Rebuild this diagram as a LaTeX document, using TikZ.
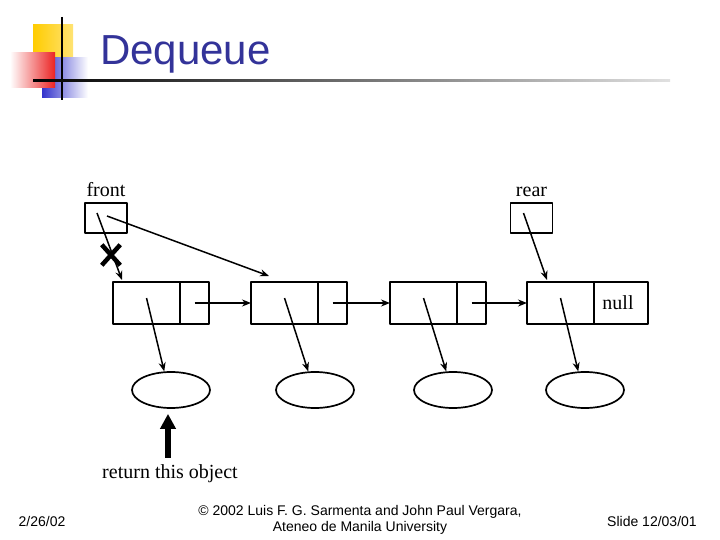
\documentclass[tikz,border=0pt]{standalone}
\usepackage{fontspec}
\setmainfont{Liberation Serif}
\setsansfont{Liberation Sans}
\usetikzlibrary{positioning,arrows.meta,shapes.geometric,shapes.misc,calc}
\definecolor{titleblue}{RGB}{51,51,153}
\definecolor{sqyellow}{RGB}{255,204,0}
\definecolor{sqred}{RGB}{235,35,35}
\definecolor{sqblue}{RGB}{51,51,204}
\tikzset{
  cell/.style={draw, line width=1.7pt, minimum height=42pt, inner sep=0pt, outer sep=0pt},
  obj/.style={draw, line width=1.7pt, ellipse, minimum width=78pt, minimum height=36pt, inner sep=0pt},
  ptr/.style={->, line width=1.5pt},
  lbl/.style={font=\fontsize{20}{20}\selectfont, inner sep=0pt},
  foot/.style={font=\sffamily\fontsize{14}{16}\selectfont, align=center, inner sep=0pt}
}
\begin{document}
\begin{tikzpicture}[x=1pt, y=-1pt, >={Stealth[length=9pt,width=7pt]}, line join=round]
	\useasboundingbox (0,0) rectangle (720,540);
	% title bar
	\shade[left color=sqyellow, right color=sqyellow!55] (33,25) rectangle (73,60);
	\shade[left color=sqblue, right color=white] (42,58) rectangle (88,98);
	\shade[left color=white, right color=sqred] (10,53) rectangle (55,88);
	\draw[line width=2pt] (62,17) -- (62,100);
	\shade[left color=black, right color=black!12] (33,80) rectangle (670,82);
	\node[font=\sffamily\fontsize{42}{42}\selectfont, text=titleblue, anchor=base west, inner sep=0pt] (title) at (100,65) {Dequeue};
	% list nodes
	\foreach \i/\x in {1/146.5, 2/284.5, 3/423.5} {
		\node[cell, minimum width=67pt] (d\i) at (\x,303) {};
		\node[cell, minimum width=29pt, right=0pt of d\i] (n\i) {};
	}
	\node[cell, minimum width=67pt] (d4) at (560.5,303) {};
	\node[cell, lbl, minimum width=54pt, minimum height=42pt, right=0pt of d4] (n4) {null\hspace*{6pt}};
	% objects
	\foreach \i/\x in {1/171, 2/315, 3/453, 4/585}
		\node[obj] (o\i) at (\x,390) {};
	% front and rear
	\node[cell, minimum width=42pt, minimum height=30pt] (fbox) at (106,218) {};
	\node[lbl, above=6pt of fbox] (front) {front};
	\node[cell, minimum width=42pt, minimum height=30pt] (rbox) at (531.5,218) {};
	\node[lbl, above=6pt of rbox] (rear) {rear};
	% links
	\draw[ptr] (n1.center) -- (d2.west);
	\draw[ptr] (n2.center) -- (d3.west);
	\draw[ptr] (n3.center) -- (d4.west);
	\foreach \i in {1,...,4}
		\draw[ptr] ($(d\i.center)+(0,-5)$) -- (o\i.110);
	\draw[ptr] ($(fbox.center)+(-9,-5)$) -- ($(d1.north west)+(9,-2)$);
	\node[draw, cross out, line width=4.5pt, minimum width=14pt, minimum height=16pt, inner sep=0pt] (cut) at (111,255) {};
	\draw[ptr] ($(fbox.center)+(1,-2)$) -- ($(d2.north west)+(18,-6)$);
	\draw[ptr] ($(rbox.center)+(-8,-5)$) -- ($(d4.north west)+(20,-2)$);
	% returned object
	\node[lbl, anchor=base] (ret) at (170,478) {return this object};
	\draw[line width=6pt, -{Triangle[length=15pt,width=15pt]}, shorten >=5pt] ($(ret.north)+(-2,-6)$) -- ($(o1.south)+(-3,0)$);
	% footer
	\node[foot] (date) at (42,521) {2/26/02};
	\node[foot] (copy) at (360,520) {\copyright{} 2002 Luis F. G. Sarmenta and John Paul Vergara,\\ Ateneo de Manila University};
	\node[foot] (slide) at (652,521) {Slide 12/03/01};
\end{tikzpicture}
\end{document}
